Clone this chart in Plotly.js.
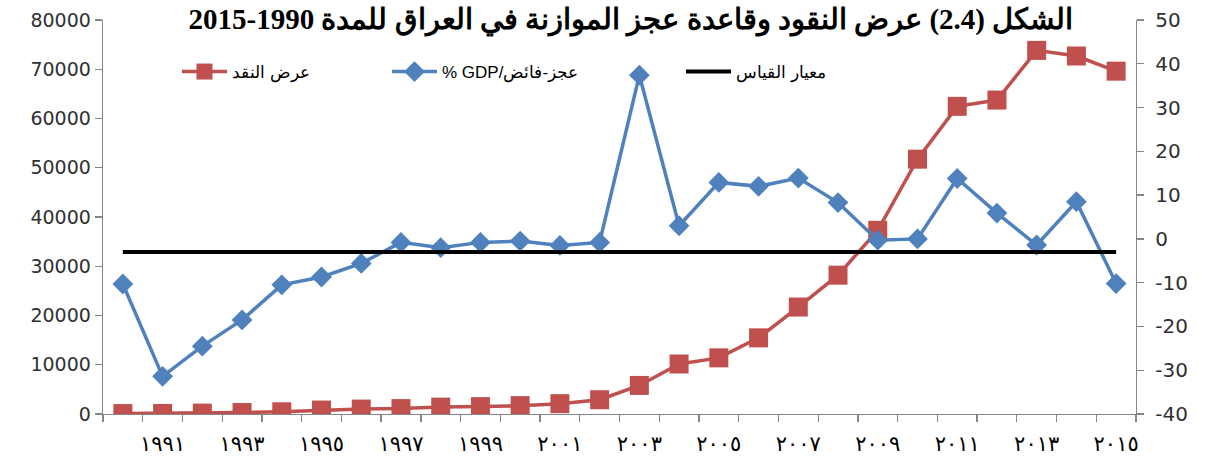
<!DOCTYPE html>
<html>
<head>
<meta charset="utf-8">
<script src="https://cdn.plot.ly/plotly-3.0.1.min.js"></script>
<style>
html,body{margin:0;padding:0;background:#fff;}
#chart{width:1205px;height:463px;}
</style>
</head>
<body>
<div id="chart"></div>
<script>
// ---- data ----
var years = [1990,1991,1992,1993,1994,1995,1996,1997,1998,1999,2000,2001,2002,2003,2004,2005,2006,2007,2008,2009,2010,2011,2012,2013,2014,2015];
var moneySupply = [90,110,180,300,450,800,1000,1100,1400,1500,1700,2100,2900,5800,10150,11400,15460,21720,28190,37300,51740,62470,63740,73830,72690,69610];
var deficitSurplusGDP = [-10.3,-31.4,-24.5,-18.5,-10.5,-8.7,-5.6,-0.8,-2.0,-0.8,-0.5,-1.5,-0.8,37.4,3.0,12.9,12.0,13.9,8.3,-0.3,0.0,13.8,5.9,-1.4,8.5,-10.2];
var benchmark = [-3,-3,-3,-3,-3,-3,-3,-3,-3,-3,-3,-3,-3,-3,-3,-3,-3,-3,-3,-3,-3,-3,-3,-3,-3,-3];
var tickYears = [1991,1993,1995,1997,1999,2001,2003,2005,2007,2009,2011,2013,2015];
var tickLabels = ['١٩٩١','١٩٩٣','١٩٩٥','١٩٩٧','١٩٩٩','٢٠٠١','٢٠٠٣','٢٠٠٥','٢٠٠٧','٢٠٠٩','٢٠١١','٢٠١٣','٢٠١٥'];
var rightTicks = [-40,-30,-20,-10,0,10,20,30,40,50];
var rightLabels = ['-40','-30','-20','-10','0','10','20','30','40','50'];
var nameMoney = 'عرض النقد';
var nameDeficit = '\u202Bعجز-فائض/GDP %\u202C';
var nameBench = 'معيار القياس';
var titleText = '\u202Bالشكل (2.4) عرض النقود وقاعدة عجز الموازنة في العراق للمدة 1990\u20102015\u202C';

var RED = '#C0504D', BLUE = '#4F81BD', AXIS = '#868686';

var traces = [
  {x: years, y: moneySupply, name: nameMoney, type: 'scatter', mode: 'lines+markers',
   line: {color: RED, width: 3.5}, marker: {symbol: 'square', size: 19, color: RED},
   yaxis: 'y', legend: 'legend'},
  {x: years, y: deficitSurplusGDP, name: nameDeficit, type: 'scatter', mode: 'lines+markers',
   line: {color: BLUE, width: 3.5}, marker: {symbol: 'diamond', size: 16, color: BLUE},
   yaxis: 'y2', legend: 'legend2'},
  {x: years, y: benchmark, name: nameBench, type: 'scatter', mode: 'lines',
   line: {color: '#000000', width: 4}, yaxis: 'y2', legend: 'legend3'}
];

var legBase = {orientation: 'h', yref: 'container', y: 1 - 72/463, yanchor: 'middle', xref: 'container',
  xanchor: 'left', bgcolor: 'rgba(0,0,0,0)', font: {family: 'Liberation Sans, Arial, sans-serif', size: 17, color: '#000'},
  itemwidth: 45};

var layout = {
  width: 1205, height: 463,
  margin: {l: 103, r: 69, t: 20, b: 49, pad: 0, autoexpand: false},
  paper_bgcolor: '#fff', plot_bgcolor: '#fff',
  showlegend: true,
  title: {text: titleText, font: {family: 'Times New Roman, Liberation Serif, DejaVu Serif, serif', size: 29, color: '#000', weight: 'bold'},
          xref: 'paper', x: 0.511, xanchor: 'center', yref: 'container', y: 1 - 19/463, yanchor: 'middle'},
  xaxis: {range: [1989.5, 2015.5], tickmode: 'array', tickvals: tickYears, ticktext: tickLabels,
          ticks: '', showgrid: false, zeroline: false, showline: true, linecolor: AXIS, linewidth: 1.3,
          tickfont: {family: 'DejaVu Sans, sans-serif', size: 21, color: '#000'}, ticklabelstandoff: 10,
          minor: {tickmode: 'linear', tick0: 1989.5, dtick: 1, ticks: 'outside', ticklen: 7, tickcolor: AXIS, tickwidth: 1.3, showgrid: false}},
  yaxis: {range: [0, 80000], dtick: 10000, tick0: 0, tickformat: 'd', ticks: 'outside', ticklen: 7, tickcolor: AXIS, tickwidth: 1.3,
          showgrid: false, zeroline: false, showline: true, linecolor: AXIS, linewidth: 1.3,
          tickfont: {family: 'DejaVu Sans, sans-serif', size: 19, color: '#303030'}, ticklabelstandoff: 0},
  yaxis2: {range: [-40, 50], tickmode: 'array', tickvals: rightTicks, ticktext: rightLabels, overlaying: 'y', side: 'right', anchor: 'x',
          ticks: 'outside', ticklen: 7, tickcolor: AXIS, tickwidth: 1.3,
          showgrid: false, zeroline: false, showline: true, linecolor: AXIS, linewidth: 1.3,
          tickfont: {family: 'DejaVu Sans, sans-serif', size: 20, color: '#303030'}, ticklabelstandoff: 7},
  legend: Object.assign({}, legBase, {x: 177/1205}),
  legend2: Object.assign({}, legBase, {x: 387/1205}),
  legend3: Object.assign({}, legBase, {x: 681/1205})
};

Plotly.newPlot('chart', traces, layout, {displayModeBar: false, staticPlot: true});
</script>
</body>
</html>
